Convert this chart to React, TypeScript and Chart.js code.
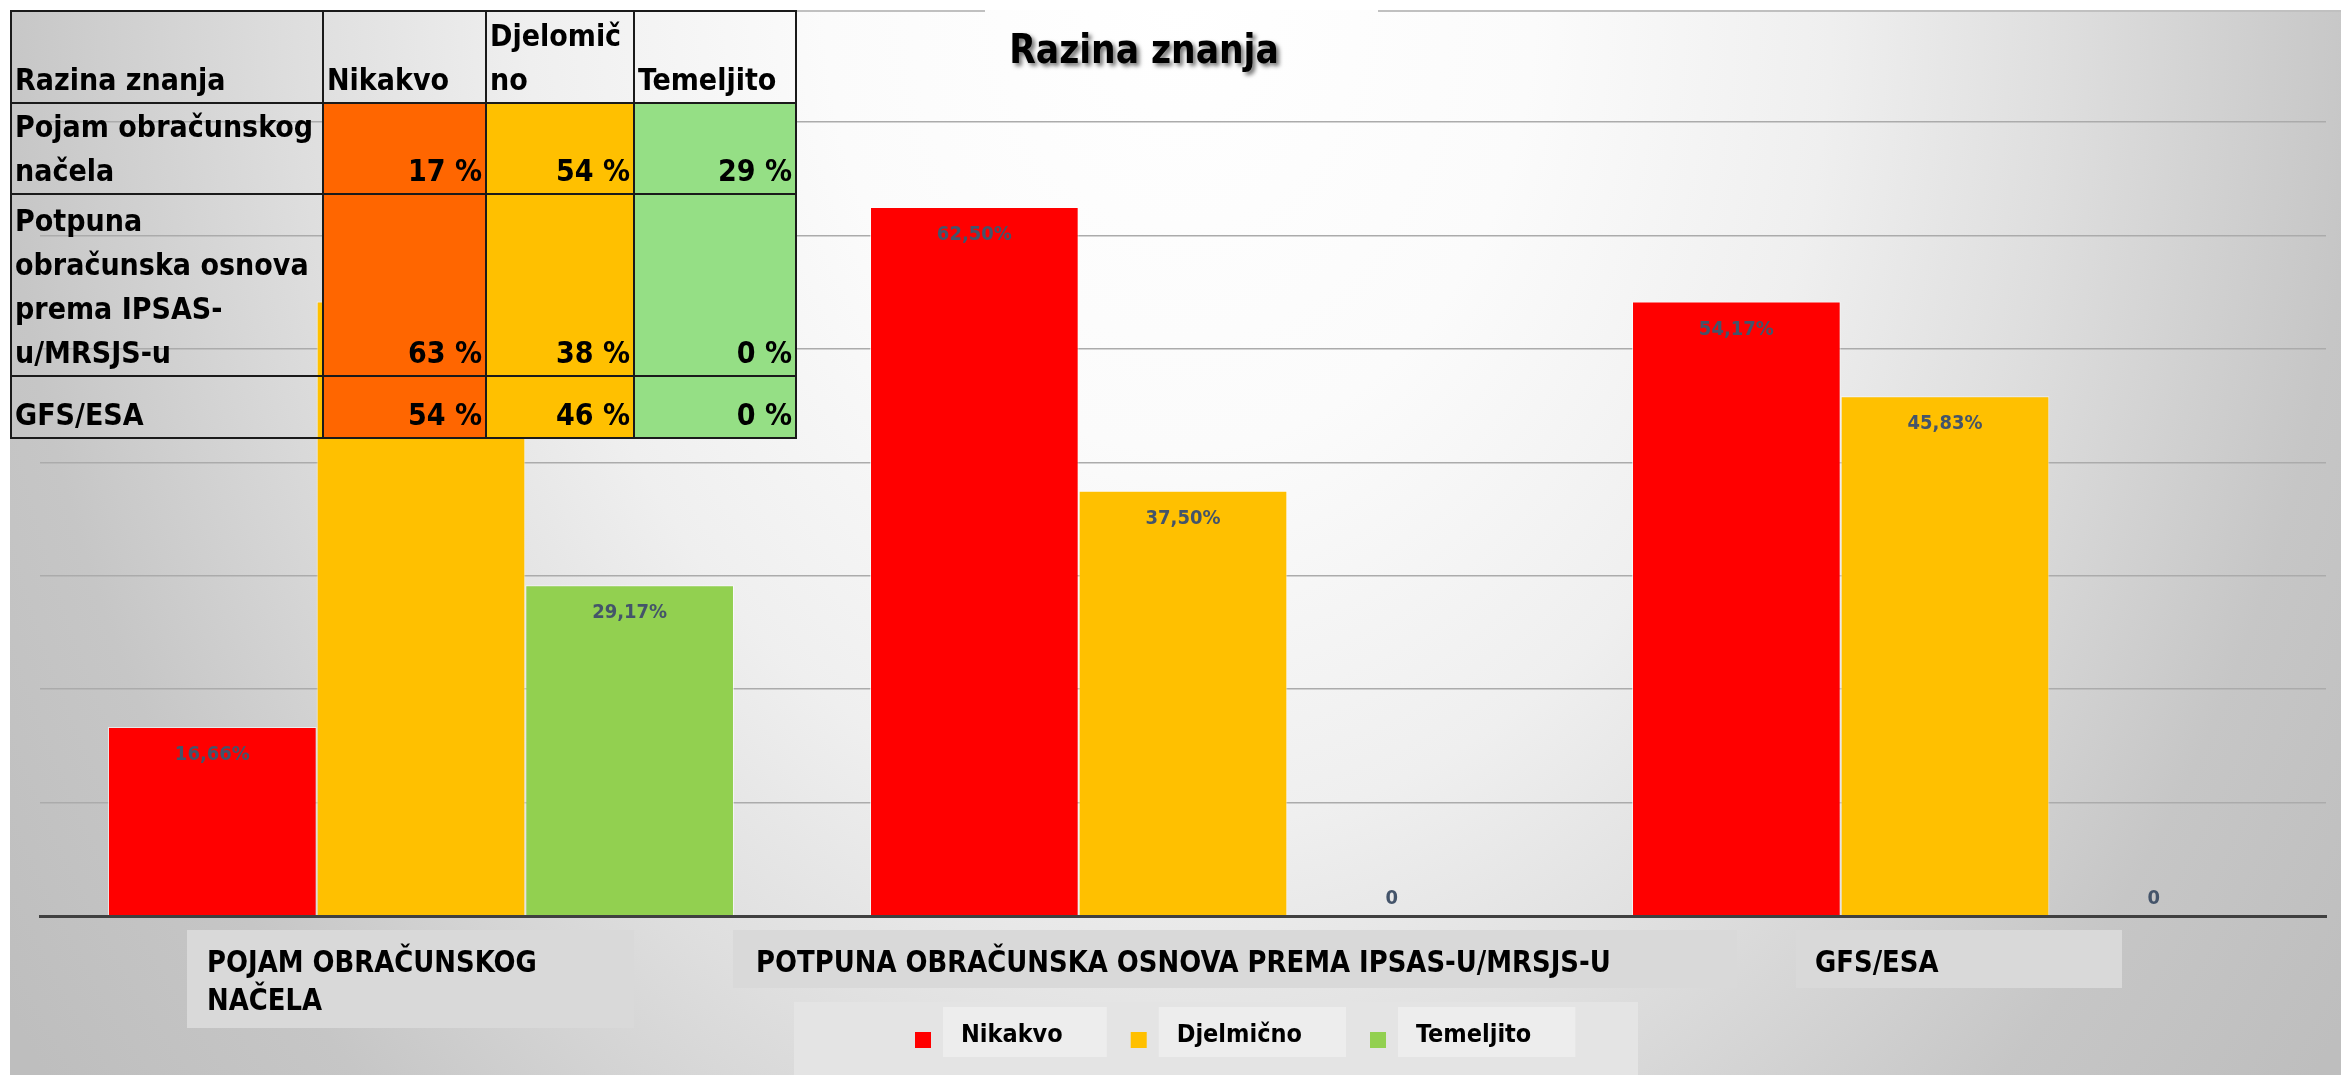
import React, { useEffect, useRef } from "react";
import { Chart, registerables } from "chart.js";

Chart.register(...registerables);

// ---------- data ----------
const categories = [
  "Pojam obračunskog načela",
  "Potpuna obračunska osnova prema IPSAS-u/MRSJS-u",
  "GFS/ESA",
];
const axisLabelLines = [
  ["POJAM OBRAČUNSKOG", "NAČELA"],
  ["POTPUNA OBRAČUNSKA OSNOVA PREMA IPSAS-U/MRSJS-U"],
  ["GFS/ESA"],
];
const seriesNames = ["Nikakvo", "Djelmično", "Temeljito"];
const nikakvo = [16.66, 62.5, 54.17];
const djelomicno = [54.17, 37.5, 45.83];
const temeljito = [29.17, 0, 0];
const yMin = 0;
const yMax = 70;
const yStep = 10;
const chartTitle = "Razina znanja";
const tableHeaderLines = [["Razina znanja"], ["Nikakvo"], ["Djelomič", "no"], ["Temeljito"]];
const tableRowLines = [
  ["Pojam obračunskog", "načela"],
  ["Potpuna", "obračunska osnova", "prema IPSAS-", "u/MRSJS-u"],
  ["GFS/ESA"],
];

// ---------- style ----------
const W = 2341;
const H = 1075;
const BAR_COLORS = ["#FF0000", "#FFC000", "#92D050"];
const CELL_COLORS = ["#FF6600", "#FFC000", "#95DF85"];
const COND = '"DejaVu Sans Condensed", "DejaVu Sans", sans-serif';
const LABEL_COLOR = "#44546A";
// category label boxes, relative to category centre: [boxLeft, boxRight, boxTop, boxBottom, textLeft]
const CAT_BOX = [
  [-234, 213, 930, 1028, -214],
  [-450, 554, 930, 988, -427],
  [-149, 177, 930, 988, -130],
];
const COL_W = [312, 163, 148, 162];
const ROW_H = [92, 91, 182, 62];

const fmt = (v: number) => (v === 0 ? "0" : v.toFixed(2).replace(".", ",") + "%");

const decorPlugin = {
  id: "decor",
  beforeDraw(chart: any) {
    const ctx = chart.ctx as CanvasRenderingContext2D;
    ctx.save();
    ctx.fillStyle = "#ffffff";
    ctx.fillRect(0, 0, W, H);
    // elliptical radial gradient background
    ctx.save();
    ctx.beginPath();
    ctx.rect(10, 10, W - 10, H - 10);
    ctx.clip();
    const cx = 1180;
    const sy = 1500 / 1180;
    ctx.translate(cx, 0);
    ctx.scale(1, sy);
    const R = 1416;
    const g = ctx.createRadialGradient(0, 0, 0, 0, 0, R);
    g.addColorStop(0, "#ffffff");
    g.addColorStop(0.25, "#fbfbfb");
    g.addColorStop(0.46, "#efefef");
    g.addColorStop(0.625, "#dedede");
    g.addColorStop(0.833, "#c6c6c6");
    g.addColorStop(1, "#bebebe");
    ctx.fillStyle = g;
    ctx.fillRect(-cx, 0, W, H / sy + 10);
    ctx.restore();
    // top border
    ctx.strokeStyle = "#c0c0c0";
    ctx.lineWidth = 2;
    ctx.beginPath();
    ctx.moveTo(10, 11);
    ctx.lineTo(985, 11);
    ctx.moveTo(1378, 11);
    ctx.lineTo(W, 11);
    ctx.stroke();
    ctx.restore();
  },
  afterDatasetsDraw(chart: any) {
    const ctx = chart.ctx as CanvasRenderingContext2D;
    ctx.save();
    ctx.font = `bold 20px ${COND}`;
    ctx.fillStyle = LABEL_COLOR;
    ctx.textAlign = "center";
    ctx.textBaseline = "middle";
    chart.data.datasets.forEach((ds: any, di: number) => {
      const meta = chart.getDatasetMeta(di);
      meta.data.forEach((bar: any, i: number) => {
        const v = ds.data[i] as number;
        const y = v === 0 ? bar.base - 17 : bar.y + 28;
        ctx.fillText(fmt(v), bar.x, y);
      });
    });
    ctx.restore();
  },
  afterDraw(chart: any) {
    const ctx = chart.ctx as CanvasRenderingContext2D;
    const xs = chart.scales.x;
    // title
    ctx.save();
    ctx.font = `bold 40px ${COND}`;
    ctx.fillStyle = "#000";
    ctx.textAlign = "center";
    ctx.textBaseline = "alphabetic";
    ctx.shadowColor = "rgba(0,0,0,0.55)";
    ctx.shadowOffsetX = 3;
    ctx.shadowOffsetY = 3;
    ctx.shadowBlur = 4;
    ctx.translate(1144, 63);
    ctx.scale(0.96, 1);
    ctx.fillText(chartTitle, 0, 0);
    ctx.restore();

    // category labels
    ctx.save();
    ctx.font = `bold 30px ${COND}`;
    ctx.textAlign = "left";
    ctx.textBaseline = "alphabetic";
    axisLabelLines.forEach((lines, i) => {
      const cx = xs.getPixelForValue(i);
      const b = CAT_BOX[i];
      ctx.fillStyle = "#d9d9d9";
      ctx.fillRect(cx + b[0], b[2], b[1] - b[0], b[3] - b[2]);
      ctx.fillStyle = "#000";
      lines.forEach((ln, k) => {
        ctx.save();
        ctx.translate(cx + b[4], 972 + k * 38);
        ctx.scale(0.96, 1);
        ctx.fillText(ln, 0, 0);
        ctx.restore();
      });
    });
    ctx.restore();

    // legend
    ctx.save();
    ctx.fillStyle = "#e4e4e4";
    ctx.fillRect(794, 1002, 1638 - 794, H - 1002);
    ctx.font = `bold 25px ${COND}`;
    ctx.textBaseline = "alphabetic";
    let x = 915;
    chart.data.datasets.forEach((ds: any) => {
      const tw = ctx.measureText(ds.label).width;
      const tx = x + 46;
      ctx.fillStyle = "#ededed";
      ctx.fillRect(tx - 18, 1007, tw + 62, 50);
      ctx.fillStyle = ds.backgroundColor;
      ctx.fillRect(x, 1032, 16, 16);
      ctx.fillStyle = "#000";
      ctx.fillText(ds.label, tx, 1042);
      x = tx + tw + 68;
    });
    ctx.restore();
  },
};

export default function App() {
  const ref = useRef<HTMLCanvasElement>(null);
  useEffect(() => {
    const canvas = ref.current;
    if (!canvas) return;
    const chart = new Chart(canvas, {
      type: "bar",
      data: {
        labels: categories,
        datasets: [nikakvo, djelomicno, temeljito].map((d, i) => ({
          label: seriesNames[i],
          data: d,
          backgroundColor: BAR_COLORS[i],
          borderColor: "rgba(255,255,255,0.6)",
          borderWidth: 1,
          categoryPercentage: 0.8215,
          barPercentage: 1,
        })),
      },
      options: {
        animation: false,
        responsive: false,
        devicePixelRatio: 1,
        layout: { padding: { left: 40, right: 15, top: 122, bottom: 159 } },
        plugins: {
          legend: { display: false },
          title: { display: false },
          tooltip: { enabled: false },
        },
        scales: {
          x: {
            type: "category",
            grid: { display: false, drawTicks: false },
            ticks: { display: false },
            border: { display: true, color: "#404040", width: 3, z: 1 },
          },
          y: {
            min: yMin,
            max: yMax,
            ticks: { display: false, stepSize: yStep },
            grid: { color: "#ababab", lineWidth: 1.5, drawTicks: false },
            border: { display: false },
          },
        },
      },
      plugins: [decorPlugin],
    } as any);
    return () => chart.destroy();
  }, []);

  const seriesValues = [nikakvo, djelomicno, temeljito];
  const cell: React.CSSProperties = {
    border: "2px solid #1a1a1a",
    padding: "0 3px",
    verticalAlign: "bottom",
    whiteSpace: "nowrap",
    overflow: "hidden",
  };

  return (
    <div style={{ position: "fixed", left: 0, top: 0, width: W, height: H, overflow: "hidden", background: "#fff" }}>
      <canvas ref={ref} width={W} height={H} style={{ position: "absolute", left: 0, top: 0, width: W, height: H }} />
      <table
        style={{
          position: "absolute",
          left: 10,
          top: 10,
          borderCollapse: "collapse",
          tableLayout: "fixed",
          width: COL_W.reduce((a, b) => a + b, 0),
          font: `bold 30px ${COND}`,
          lineHeight: "44px",
          color: "#000",
        }}
      >
        <colgroup>
          {COL_W.map((w, i) => (
            <col key={i} style={{ width: w }} />
          ))}
        </colgroup>
        <tbody>
          <tr style={{ height: ROW_H[0] }}>
            {tableHeaderLines.map((lines, j) => (
              <td key={j} style={cell}>
                {lines.map((l, k) => (
                  <div key={k}>{l}</div>
                ))}
              </td>
            ))}
          </tr>
          {tableRowLines.map((lines, i) => (
            <tr key={i} style={{ height: ROW_H[i + 1] }}>
              <td style={cell}>
                {lines.map((l, k) => (
                  <div key={k}>{l}</div>
                ))}
              </td>
              {seriesValues.map((s, j) => (
                <td key={j} style={{ ...cell, background: CELL_COLORS[j], textAlign: "right" }}>
                  {Math.round(s[i])} %
                </td>
              ))}
            </tr>
          ))}
        </tbody>
      </table>
    </div>
  );
}
